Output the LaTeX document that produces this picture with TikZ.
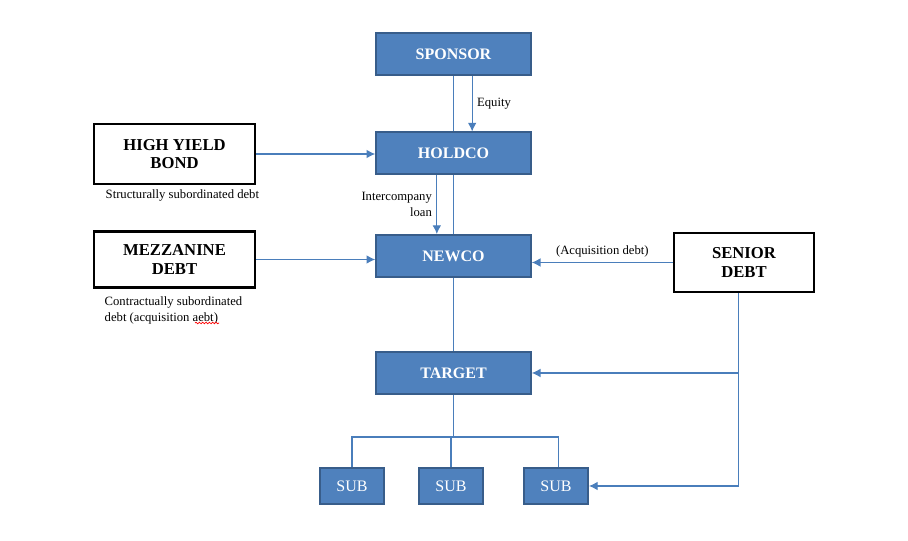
\documentclass[tikz,border=0pt]{standalone}
\usepackage{fontspec}
\setmainfont{Liberation Serif}
\usetikzlibrary{arrows.meta,decorations.pathmorphing}
\definecolor{boxblue}{HTML}{4F81BD}
\definecolor{edgeblue}{HTML}{385D8A}
\definecolor{lineblue}{HTML}{4A7EBB}
\begin{document}
\begin{tikzpicture}[x=0.75pt, y=-0.75pt,
		every node/.style = {align=center},
		entity/.style = {shape=rectangle, fill=boxblue, draw=edgeblue, line width=1.5pt, text=white, font=\fontsize{12}{14}\selectfont\bfseries, inner sep=0pt, minimum width=116pt, minimum height=31.5pt},
		sub/.style = {entity, font=\fontsize{12}{14}\selectfont, minimum width=48pt, minimum height=27pt},
		lender/.style = {shape=rectangle, draw=black, line width=1.8pt, font=\fontsize{12.5}{14}\selectfont\bfseries, inner sep=0pt},
		note/.style = {font=\fontsize{9.5}{12}\selectfont},
		link/.style = {draw=lineblue, line width=0.8pt},
		flow/.style = {link, -{Latex[length=6.5pt,width=6.5pt]}}]
	\useasboundingbox (0,0) rectangle (908,541);
	% main chain
	\node[entity] (sponsor) at (453.5,54.5) {SPONSOR};
	\node[entity] (holdco) at (453.5,153.5) {HOLDCO};
	\node[entity] (newco) at (453.5,256) {NEWCO};
	\node[entity] (target) at (453.5,373) {TARGET};
	\node[sub] (sub1) at (352,486) {SUB};
	\node[sub] (sub2) at (451,486) {SUB};
	\node[sub] (sub3) at (556,486) {SUB};
	% lenders
	\node[lender, minimum width=121pt, minimum height=45pt] (hyb) at (174.5,154) {HIGH YIELD\\BOND};
	\node[lender, minimum width=121pt, minimum height=42pt] (mezz) at (174.5,259.5) {MEZZANINE\\DEBT};
	\node[lender, minimum width=105pt, minimum height=44pt] (senior) at (744,262.5) {SENIOR\\DEBT};
	\node[note, anchor=west] (hybnote) at (101,195) {Structurally subordinated debt};
	\node[note, anchor=north west, align=left] (mezznote) at (100,292) {Contractually subordinated\\debt (acquisition aebt)};
	\draw[red, line width=0.5pt, decorate, decoration={snake, amplitude=0.6pt, segment length=2.5pt}] (195,323) -- (219,323);
	% ownership lines
	\coordinate (bus) at (453,437);
	\draw[link] (sponsor.south) -- (holdco.north);
	\draw[link] (holdco.south) -- (newco.north);
	\draw[link] (newco.south) -- (target.north);
	\draw[link] (target.south) -- (target.south |- bus);
	\draw[link] (sub1.north) |- ([xshift=2pt]sub3.north |- bus) -- ([xshift=2pt]sub3.north);
	\draw[link] (sub2.north) -- (sub2.north |- bus);
	% funding
	\draw[flow] ([xshift=14pt]sponsor.south) -- ([xshift=14pt]holdco.north) node[midway, right, note] {Equity};
	\draw[flow] ([xshift=-12.5pt]holdco.south) -- ([xshift=-12.5pt]newco.north) node[midway, left, note, align=right] {Intercompany\\loan};
	\draw[flow] (hyb.east) -- (hyb.east -| holdco.west);
	\draw[flow] (mezz.east) -- (mezz.east -| newco.west);
	\draw[flow] (senior.west) -- (senior.west -| newco.east) node[midway, above, note] {(Acquisition debt)};
	\draw[flow] ([xshift=-4pt]senior.south) |- (sub3.east);
	\draw[flow] ([xshift=-4pt]senior.south |- target.east) -- (target.east);
\end{tikzpicture}
\end{document}
